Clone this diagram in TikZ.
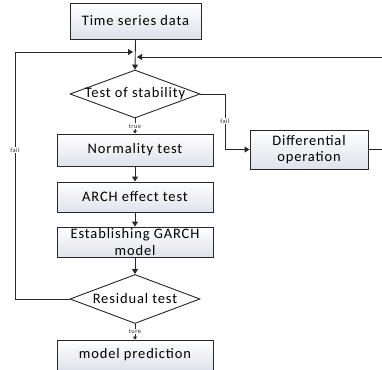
\documentclass[tikz,border=0pt]{standalone}
\usepackage{fontspec}
\setmainfont{Carlito}[LetterSpace=6]
\usetikzlibrary{arrows.meta,shapes.geometric}
\definecolor{boxbot}{RGB}{222,226,234}
\definecolor{linec}{RGB}{40,40,40}
\tikzset{
  stepbox/.style={draw=linec, line width=0.9pt, top color=white, bottom color=boxbot, inner sep=0pt, font=\fontsize{14.5}{16.5}\selectfont, align=center},
  decbox/.style={draw=linec, line width=0.9pt, shape=diamond, inner sep=0pt, fill=white},
  dectext/.style={font=\fontsize{14.5}{16.5}\selectfont},
  conn/.style={draw=linec, line width=0.9pt},
  arr/.style={conn, -{Triangle[length=5pt,width=6pt]}},
  sarr/.style={conn, -{Triangle[length=3pt,width=4pt]}},
  tiny/.style={font=\fontsize{6.5}{7.5}\selectfont, fill=white, inner sep=0.6pt, text=black!80}
}
\begin{document}
\begin{tikzpicture}[x=1pt,y=-1pt]
\useasboundingbox (0,0) rectangle (382,369);
\node[stepbox, minimum width=131pt, minimum height=36pt] (ts) at (135.5,21) {Time series data};
\node[decbox, minimum width=130pt, minimum height=48pt, aspect=2.7] (stab) at (135,94) {};
\node[dectext] (stabt) at (135,94) {Test of stability};
\node[stepbox, minimum width=156pt, minimum height=32pt] (norm) at (135,150) {Normality test};
\node[stepbox, minimum width=156pt, minimum height=30pt] (arch) at (135,197) {ARCH effect test};
\node[stepbox, minimum width=156pt, minimum height=30pt] (garch) at (135,242) {Establishing GARCH\\model};
\node[decbox, minimum width=130pt, minimum height=49pt, aspect=2.65] (res) at (135,299) {};
\node[dectext] (rest) at (135,299) {Residual test};
\node[stepbox, minimum width=156pt, minimum height=30pt] (pred) at (135,355) {model prediction};
\node[stepbox, minimum width=118pt, minimum height=39pt] (diff) at (309,149.5) {Differential\\operation};

\coordinate (jl) at (133,52);
\coordinate (jr) at (137,57);
\coordinate (lc) at (15,299);
\coordinate (lt) at (15,52);
\coordinate (rb) at (383,149.5);
\coordinate (rt) at (383,57);
\coordinate (fk) at (225,94);
\coordinate (fd) at (225,149.5);

\draw[arr] (ts.south) -- (stab.north);
\draw[arr] (res.west) -- (lc) -- (lt) -- (jl);
\draw[arr] (diff.east) -- (rb) -- (rt) -- (jr);
\draw[arr] (stab.east) -- (fk) -- (fd) -- (diff.west);
\draw[arr] (norm.south) -- (arch.north);
\draw[arr] (arch.south) -- (garch.north);
\draw[arr] (garch.south) -- (res.north);
\draw[sarr] (stab.south) -- node[tiny] (tlab) {true} (norm.north);
\draw[sarr] (res.south) -- node[tiny] (ulab) {ture} (pred.north);
\node[tiny] (flab1) at (225,121) {fail};
\node[tiny] (flab2) at (15,150) {fail};
\end{tikzpicture}
\end{document}
